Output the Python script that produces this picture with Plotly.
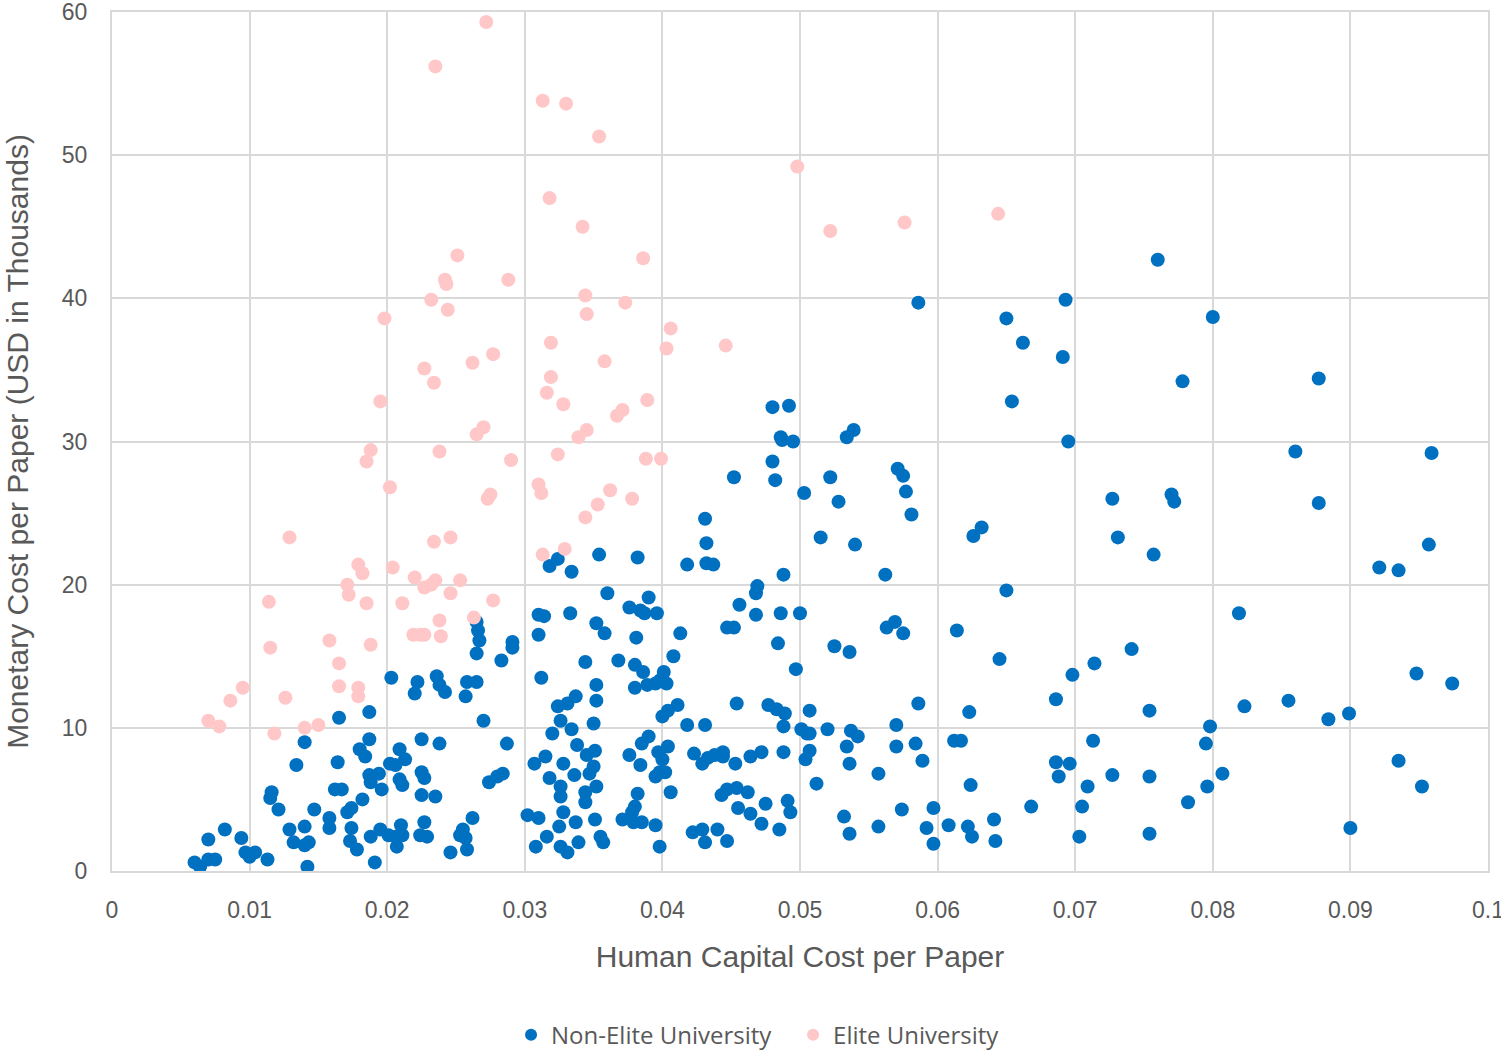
import plotly.graph_objects as go

# ---------------- data ----------------
elite_x = [0.0272,0.0235,0.0313,0.0330,0.0354,0.0498,0.0318,0.0644,0.0576,0.0522,0.0342,0.0251,0.0386,
           0.0242,0.0243,0.0288,0.0344,0.0232,0.0373,0.0244,0.0345,0.0198,0.0406,0.0446,0.0319,0.0403,
           0.0277,0.0262,0.0358,0.0227,0.0234,0.0319,0.0316,0.0328,0.0389,0.0195,0.0371,0.0367,0.0270,
           0.0265,0.0345,0.0339,0.0238,0.0188,0.0185,0.0324,0.0388,0.0399,0.0290,0.0202,0.0310,0.0312,
           0.0275,0.0273,0.0362,0.0378,0.0353,0.0344,0.0129,0.0234,0.0246,0.0329,0.0313,0.0179,0.0182,
           0.0204,0.0220,0.0171,0.0235,0.0232,0.0227,0.0253,0.0172,0.0246,0.0277,0.0114,0.0185,0.0211,
           0.0238,0.0263,0.0158,0.0219,0.0224,0.0227,0.0239,0.0188,0.0115,0.0165,0.0165,0.0179,0.0179,
           0.0095,0.0126,0.0086,0.0070,0.0078,0.0118,0.0140,0.0150]
elite_y = [59.3,56.2,53.8,53.6,51.3,49.2,47.0,45.9,45.3,44.7,45.0,43.0,42.8,
           41.3,41.0,41.3,40.2,39.9,39.7,39.2,38.9,38.6,37.9,36.7,36.9,36.5,
           36.1,35.5,35.6,35.1,34.1,34.5,33.4,32.6,32.9,32.8,32.2,31.8,31.0,
           30.5,30.8,30.3,29.3,29.4,28.6,29.1,28.8,28.8,28.7,26.8,27.0,26.4,
           26.3,26.0,26.6,26.0,25.6,24.7,23.3,23.0,23.3,22.5,22.1,21.4,20.8,
           21.2,20.5,20.0,20.3,20.0,19.8,20.3,19.3,19.4,18.9,18.8,18.7,18.7,
           17.5,17.7,16.1,16.5,16.5,16.5,16.4,15.8,15.6,14.5,12.9,12.8,12.2,
           12.8,12.1,11.9,10.5,10.1,9.6,10.0,10.2]

nonelite_x = [
    0.0586,0.0693,0.0760,0.0650,0.0662,0.0691,0.0654,0.0695,0.0539,0.0534,0.0522,0.0571,0.0575,
    0.0577,0.0528,0.0581,0.0515,0.0540,0.0562,0.0626,0.0632,0.0650,0.0727,0.0731,0.0757,0.0800,
    0.0778,0.0877,0.0860,0.0959,0.0770,0.0772,0.0877,0.0957,0.0921,0.0935,0.0819,0.0948,0.0974,
    0.0754,0.0823,0.0855,0.0884,0.0899,0.0798,0.0795,0.0807,0.0796,0.0782,0.0754,0.0754,0.0935,
    0.0952,0.0900,0.0569,0.0563,0.0575,0.0525,0.0536,0.0614,0.0645,0.0741,0.0714,0.0698,0.0686,
    0.0507,0.0586,0.0623,0.0507,0.0520,0.0537,0.0542,0.0570,0.0534,0.0570,0.0584,0.0589,0.0536,
    0.0512,0.0557,0.0612,0.0617,0.0624,0.0686,0.0696,0.0688,0.0713,0.0709,0.0727,0.0668,0.0705,
    0.0532,0.0536,0.0557,0.0574,0.0597,0.0592,0.0597,0.0608,0.0622,0.0625,0.0641,0.0642,0.0703,
    0.0360,0.0390,0.0376,0.0384,0.0387,0.0396,0.0310,0.0314,0.0333,0.0352,0.0358,0.0310,0.0381,
    0.0413,0.0456,0.0468,0.0468,0.0486,0.0500,0.0447,0.0452,0.0484,0.0497,0.0408,0.0368,0.0344,
    0.0380,0.0386,0.0401,0.0398,0.0403,0.0380,0.0389,0.0395,0.0352,0.0312,0.0352,0.0337,0.0331,
    0.0324,0.0326,0.0334,0.0350,0.0320,0.0411,0.0404,0.0400,0.0418,0.0431,0.0454,0.0477,0.0483,
    0.0489,0.0488,0.0501,0.0505,0.0287,0.0307,0.0315,0.0328,0.0338,0.0345,0.0351,0.0350,0.0347,
    0.0336,0.0318,0.0326,0.0326,0.0344,0.0352,0.0344,0.0376,0.0384,0.0385,0.0390,0.0397,0.0404,
    0.0400,0.0398,0.0395,0.0402,0.0406,0.0382,0.0380,0.0378,0.0371,0.0379,0.0385,0.0395,0.0398,
    0.0274,0.0280,0.0284,0.0262,0.0255,0.0257,0.0258,0.0302,0.0310,0.0328,0.0325,0.0337,0.0351,
    0.0316,0.0308,0.0326,0.0331,0.0339,0.0355,0.0357,0.0422,0.0429,0.0431,0.0440,0.0447,0.0423,
    0.0429,0.0433,0.0438,0.0444,0.0444,0.0453,0.0464,0.0472,0.0488,0.0504,0.0507,0.0443,0.0447,
    0.0454,0.0462,0.0455,0.0464,0.0472,0.0475,0.0491,0.0493,0.0485,0.0265,0.0266,0.0267,0.0265,
    0.0291,0.0291,0.0283,0.0258,0.0265,0.0257,0.0270,
    0.0203,0.0222,0.0220,0.0236,0.0238,0.0242,0.0165,0.0187,0.0140,0.0187,0.0180,0.0184,0.0225,
    0.0238,0.0134,0.0164,0.0209,0.0213,0.0206,0.0202,0.0187,0.0194,0.0188,0.0196,0.0225,0.0227,
    0.0209,0.0211,0.0162,0.0167,0.0116,0.0115,0.0121,0.0147,0.0182,0.0174,0.0171,0.0225,0.0235,
    0.0158,0.0158,0.0174,0.0173,0.0178,0.0129,0.0132,0.0140,0.0143,0.0140,0.0227,0.0224,0.0229,
    0.0188,0.0195,0.0201,0.0206,0.0210,0.0211,0.0207,0.0246,0.0253,0.0191,0.0142,0.0082,0.0094,
    0.0070,0.0060,0.0064,0.0070,0.0075,0.0097,0.0100,0.0104,0.0113,
    0.0480,0.0492,0.0486,0.0487,0.0495,0.0480,0.0482,0.0452,0.0503,0.0431,0.0432,0.0432,0.0437,
    0.0418,0.0354,0.0382,0.0318,0.0324,0.0334,0.0488,0.0469]
nonelite_y = [
    39.7,39.9,42.7,38.6,36.9,35.9,32.8,30.0,30.8,30.3,27.5,28.1,27.6,
    26.5,25.8,24.9,23.3,22.8,20.7,23.4,24.0,19.6,26.0,23.3,22.1,38.7,
    34.2,34.4,29.3,29.2,26.3,25.8,25.7,22.8,21.2,21.0,18.0,13.8,13.1,
    11.2,11.5,11.9,10.6,11.0,10.1,8.9,6.8,5.9,4.8,6.6,2.6,7.7,
    5.9,3.0,17.4,17.0,16.6,15.7,15.3,16.8,14.8,15.5,14.5,13.7,12.0,
    11.2,11.7,11.1,9.6,9.9,9.8,9.4,10.2,8.7,8.7,8.9,7.7,7.5,
    6.1,6.8,9.1,9.1,6.0,7.6,7.5,6.6,9.1,5.9,6.7,4.5,4.5,
    3.8,2.6,3.1,4.3,4.4,3.0,1.9,3.2,3.1,2.4,3.6,2.1,2.4,
    19.4,19.1,18.4,18.2,18.0,18.0,17.9,17.8,18.0,17.3,16.6,16.5,16.3,
    16.6,18.6,19.4,17.9,18.0,18.0,17.0,17.0,15.9,14.1,15.0,14.7,14.6,
    14.4,13.9,13.9,13.3,13.1,12.8,13.0,13.1,13.0,13.5,11.9,12.2,11.7,
    11.5,10.5,9.9,10.3,9.6,11.6,11.2,10.8,10.2,10.2,11.7,11.6,11.3,
    11.0,10.1,9.9,9.6,8.9,7.5,8.0,7.5,8.8,8.1,8.4,7.3,6.8,
    6.7,6.5,5.9,5.2,5.5,5.9,4.8,8.1,7.4,8.9,9.4,8.3,8.7,
    7.8,6.9,6.6,6.9,5.5,5.4,4.5,4.1,3.6,3.4,3.4,3.2,1.7,
    6.2,6.6,6.8,3.7,2.9,2.3,1.5,3.9,3.7,4.1,3.1,3.4,3.6,
    2.4,1.7,1.7,1.3,2.0,2.4,2.0,2.7,2.9,2.0,2.9,2.1,8.2,
    7.5,7.9,8.1,8.3,8.0,7.5,8.0,8.3,8.3,7.8,8.4,5.3,5.7,
    5.8,5.5,4.4,4.0,3.3,4.7,4.9,4.1,2.9,17.4,16.8,16.1,15.2,
    16.0,15.6,14.7,13.2,13.2,12.2,10.5,
    13.5,13.2,12.4,13.6,13.0,12.5,10.7,11.1,9.0,9.2,8.5,8.0,9.2,
    8.9,7.4,7.6,8.5,7.8,7.4,7.5,6.7,6.8,6.2,5.7,6.9,6.5,
    6.4,6.0,5.7,5.7,5.5,5.1,4.3,4.3,5.0,4.4,4.1,5.3,5.2,
    3.7,3.0,3.0,2.1,1.5,2.9,2.0,1.8,2.0,3.1,3.4,2.5,2.4,
    2.4,2.9,2.5,2.4,3.2,2.5,1.7,1.3,2.5,0.6,0.3,2.9,2.3,
    2.2,0.6,0.3,0.8,0.8,1.3,1.0,1.3,0.8,
    32.4,32.5,30.3,30.1,30.0,28.6,27.3,27.5,26.4,24.6,22.9,21.5,21.4,
    21.4,22.1,21.9,21.3,21.8,20.9,20.7,19.9]

x_ticks = [0, 0.01, 0.02, 0.03, 0.04, 0.05, 0.06, 0.07, 0.08, 0.09, 0.1]
x_tick_labels = ["0", "0.01", "0.02", "0.03", "0.04", "0.05", "0.06", "0.07", "0.08", "0.09", "0.1"]
y_ticks = [0, 10, 20, 30, 40, 50, 60]

BLUE = "#0070C0"
PINK = "#FFC7C7"
GRID = "#D9D9D9"
TXT = "#595959"

fig = go.Figure()
fig.add_trace(go.Scatter(x=nonelite_x, y=nonelite_y, mode="markers", name="Non-Elite University",
                         marker=dict(color=BLUE, size=14, line=dict(width=0))))
fig.add_trace(go.Scatter(x=elite_x, y=elite_y, mode="markers", name="Elite University",
                         marker=dict(color=PINK, size=14, line=dict(width=0))))

fig.update_layout(
    width=1501, height=1054,
    margin=dict(l=112, r=13, t=12, b=183, autoexpand=False),
    paper_bgcolor="white", plot_bgcolor="white",
    font=dict(family="Liberation Sans, Arial, sans-serif", color=TXT),
    showlegend=True,
    legend=dict(orientation="h", x=0.29, xanchor="left", y=-0.191, yanchor="middle",
                font=dict(family="Open Sans, sans-serif", size=24, color=TXT),
                itemsizing="constant", itemwidth=30, traceorder="normal",
                entrywidth=237, entrywidthmode="pixels"),
    xaxis=dict(range=[0, 0.1], tickvals=x_ticks, ticktext=x_tick_labels,
               showgrid=True, gridcolor=GRID, gridwidth=2,
               showline=True, linecolor=GRID, linewidth=2, mirror=True,
               zeroline=False, ticks="", ticklabelstandoff=17, ticklabeloverflow="allow",
               tickfont=dict(size=23, color=TXT),
               title=dict(text="Human Capital Cost per Paper", font=dict(size=30, color=TXT), standoff=24),
               automargin=False),
    yaxis=dict(range=[0, 60], tickvals=y_ticks,
               showgrid=True, gridcolor=GRID, gridwidth=2,
               showline=True, linecolor=GRID, linewidth=2, mirror=True,
               zeroline=False, ticks="", ticklabelstandoff=18, ticklabeloverflow="allow",
               tickfont=dict(size=23, color=TXT),
               title=dict(text="Monetary Cost per Paper (USD in Thousands)", font=dict(size=30, color=TXT), standoff=24),
               automargin=False),
)

fig.write_html("out.html", config={"displayModeBar": False},
               post_script="document.body.style.margin='0';document.body.style.overflow='hidden';")
